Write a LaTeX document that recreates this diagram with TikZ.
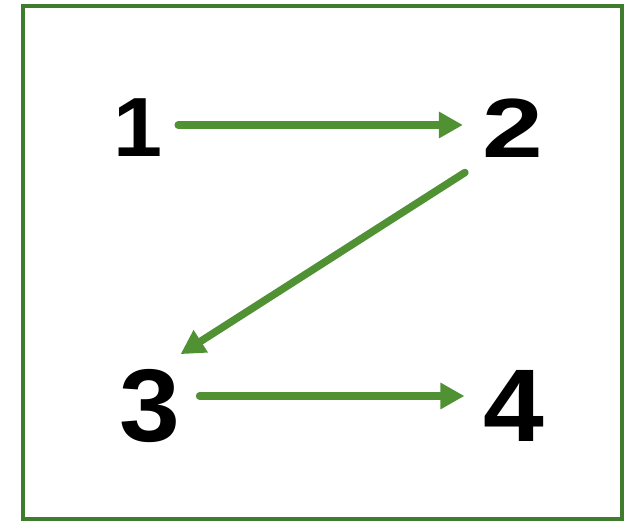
\documentclass[tikz,border=0pt]{standalone}
\usepackage{fontspec}
\setmainfont{Liberation Sans}
\usetikzlibrary{arrows.meta}
\definecolor{framegreen}{RGB}{64,124,46}
\definecolor{flowgreen}{RGB}{80,145,52}
\tikzset{
  digit/.style={inner sep=0pt, font=\bfseries\fontsize{84}{84}\selectfont},
  flow/.style={draw=flowgreen, line width=7.5pt, line cap=round,
    -{Triangle[length=24pt,width=25pt]}},
}
\newcommand{\topdigit}[2][1.3]{\scalebox{#1}[1.0]{#2}}
\newcommand{\lowdigit}[1]{\scalebox{1.3}[1.23]{#1}}
\begin{document}
\begin{tikzpicture}[x=1pt,y=1pt]
    \useasboundingbox (0,0) rectangle (633,521);
    \draw[framegreen, line width=4pt] (23,1.5) rectangle (622,515);
    \node[digit] (n1) at (138.5,393) {\topdigit[1.05]{1}};
    \node[digit] (n2) at (512.5,393) {\topdigit{2}};
    \node[digit] (n3) at (150,115) {\lowdigit{3}};
    \node[digit] (n4) at (514,115) {\lowdigit{4}};
    \begin{scope}[flow]
      \draw[shorten <=15pt, shorten >=19pt]
        ([yshift=3pt]n1.east) -- ([yshift=3pt]n2.west);
      \draw ([xshift=-17pt,yshift=-15pt]n2.south west)
        -- ([yshift=15pt]n3.north east);
      \draw[shorten <=19pt, shorten >=19pt]
        ([yshift=10pt]n3.east) -- ([yshift=10pt]n4.west);
    \end{scope}
\end{tikzpicture}
\end{document}
